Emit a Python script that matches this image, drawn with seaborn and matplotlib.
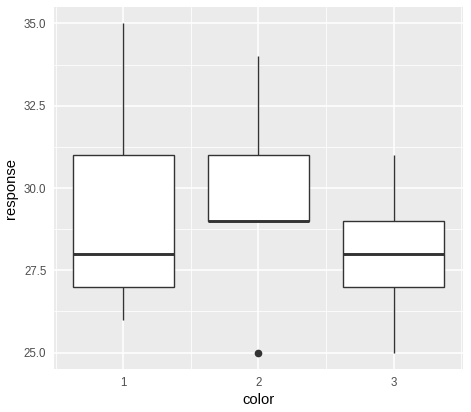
import matplotlib
matplotlib.use("Agg")
import matplotlib.pyplot as plt
from matplotlib.ticker import FixedLocator, FormatStrFormatter
import seaborn as sns
import pandas as pd

# ---- data ----
group_labels = ["1", "2", "3"]
values_1 = [26, 27, 28, 31, 35]
values_2 = [25, 29, 29, 31, 34]
values_3 = [25, 27, 28, 29, 31]
y_ticks = [25.0, 27.5, 30.0, 32.5, 35.0]

groups = []
resp = []
for lab, vals in zip(group_labels, [values_1, values_2, values_3]):
    groups += [lab] * len(vals)
    resp += vals
df = pd.DataFrame({"color": groups, "response": resp})

sns.set_theme(style="white")
plt.rcParams['font.family'] = ['Liberation Sans', 'DejaVu Sans']

fig = plt.figure(figsize=(4.71, 4.12), dpi=100)
ax = fig.add_axes([54 / 471, 1 - 369 / 412, 409 / 471, 362 / 412])
ax.set_facecolor("#EBEBEB")
ax.set_axisbelow(True)

line_c = "#333333"
sns.boxplot(data=df, x="color", y="response", order=group_labels,
            width=0.75, color="white", linecolor=line_c, linewidth=1.0,
            showcaps=False, whis=1.5, saturation=1,
            flierprops=dict(marker='o', markerfacecolor=line_c,
                            markeredgecolor=line_c, markersize=4.5),
            medianprops=dict(linewidth=2.1, color=line_c),
            ax=ax)

ax.set_xlim(-0.5125, 2.5125)
ax.set_ylim(24.5, 35.5)

ax.yaxis.set_major_locator(FixedLocator(y_ticks))
ax.yaxis.set_major_formatter(FormatStrFormatter('%.1f'))
ax.yaxis.set_minor_locator(FixedLocator([23.75, 26.25, 28.75, 31.25, 33.75, 36.25]))
ax.xaxis.set_minor_locator(FixedLocator([-0.5, 0.5, 1.5, 2.5]))

ax.grid(which='major', color='white', linewidth=1.1)
ax.grid(which='minor', color='white', linewidth=0.55)

for s in ax.spines.values():
    s.set_visible(False)

ax.tick_params(axis='both', which='major', length=3.5, width=1.0, color=line_c,
               labelsize=8.3, labelcolor='#4D4D4D', pad=2)
ax.tick_params(axis='both', which='minor', length=0)

ax.set_xlabel("color", fontsize=10.6, color='black', labelpad=3)
ax.set_ylabel("response", fontsize=10.6, color='black', labelpad=4)

fig.savefig("out.png", dpi=100)
